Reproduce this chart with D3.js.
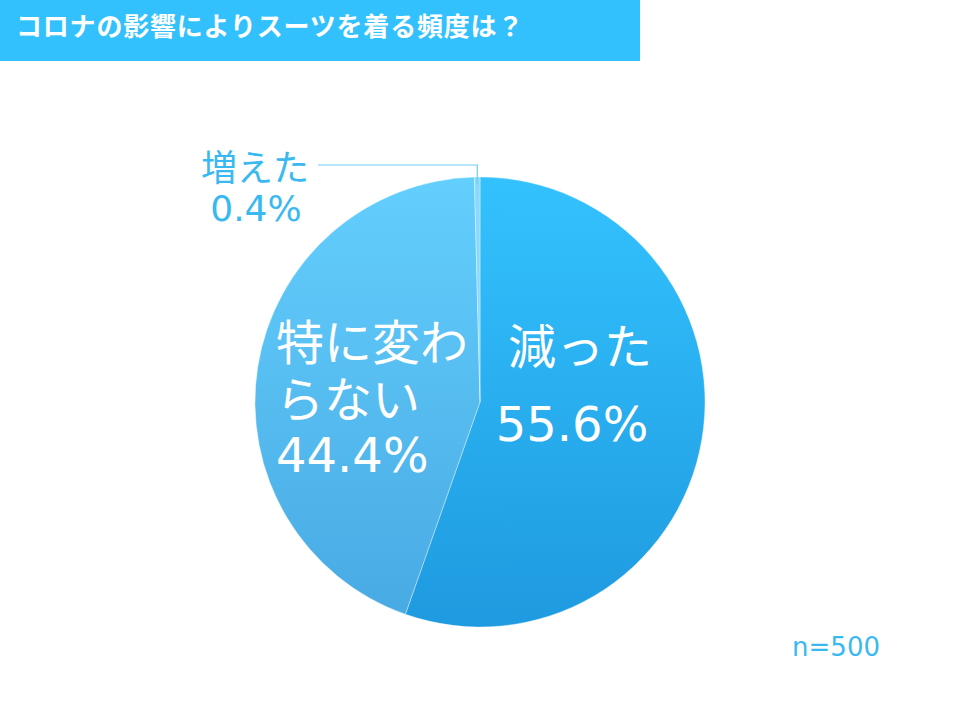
<!DOCTYPE html>
<html><head><meta charset="utf-8">
<script src="https://cdn.jsdelivr.net/npm/d3@7"></script>
<style>body{margin:0;background:#fff}svg{display:block}</style>
</head><body>
<script>
const title = "コロナの影響によりスーツを着る頻度は？";
const categories = ["減った", "特に変わらない", "増えた"];
const values = [55.6, 44.4, 0.4];
const sampleLabel = "n=500";

const W = 960, H = 720;
const svg = d3.select("body").append("svg").attr("width", W).attr("height", H);
const font = "'DejaVu Sans', 'Noto Sans CJK JP', sans-serif";

// title bar
svg.append("rect").attr("x", 0).attr("y", 0).attr("width", 640).attr("height", 61).attr("fill", "#33c1fd");
svg.append("text").attr("x", 16).attr("y", 36).attr("fill", "#fff")
  .attr("font-family", "'Noto Sans CJK JP', sans-serif").attr("font-weight", "bold").attr("font-size", 26)
  .attr("letter-spacing", 0.8)
  .text(title);

const defs = svg.append("defs");
const grads = [["#33c2fe", "#1f9ae0"], ["#63cffd", "#48a9e3"], ["#8ad9fd", "#8ad9fd"]];
const cx = 480, cy = 402, r = 225;
grads.forEach((g, i) => {
  const lg = defs.append("linearGradient").attr("id", "g" + i)
    .attr("gradientUnits", "userSpaceOnUse").attr("x1", 0).attr("y1", -r).attr("x2", 0).attr("y2", r);
  lg.append("stop").attr("offset", 0).attr("stop-color", g[0]);
  lg.append("stop").attr("offset", 1).attr("stop-color", g[1]);
});

const pie = d3.pie().sort(null).value(d => d);
const arcs = pie(values);
const arc = d3.arc().innerRadius(0).outerRadius(r);
const gp = svg.append("g").attr("transform", `translate(${cx},${cy})`);
gp.selectAll("path").data(arcs).join("path")
  .attr("d", arc).attr("fill", (d, i) => `url(#g${i})`)
  .attr("stroke", "rgba(255,255,255,0.35)").attr("stroke-width", 1);

function label(lines, xs, ys, size, anchor, color) {
  const t = svg.append("text").attr("font-family", font).attr("font-size", size)
    .attr("fill", color).attr("text-anchor", anchor);
  lines.forEach((l, i) => t.append("tspan").attr("x", xs[i]).attr("y", ys[i]).text(l));
}
label([categories[0], values[0] + "%"], [580, 572], [364, 441], 48, "middle", "#fff");
label(["特に変わ", "らない", values[1] + "%"], [276, 276, 276], [360, 417, 472], 48, "start", "#fff");
label([categories[2], values[2] + "%"], [255, 256], [181, 221], 36, "middle", "#3ab9f1");

// leader line for small slice
const a = arcs[2];
const mid = (a.startAngle + a.endAngle) / 2;
const px = cx + Math.sin(mid) * (r - 8), py = cy - Math.cos(mid) * (r - 8);
svg.append("polyline")
  .attr("points", `318,165 ${px},165 ${px},${py}`)
  .attr("fill", "none").attr("stroke", "#6dcdf8").attr("stroke-width", 1.2);

svg.append("text").attr("x", 880).attr("y", 656).attr("text-anchor", "end")
  .attr("font-family", font).attr("font-size", 26).attr("fill", "#3ab9f1").text(sampleLabel);
</script>
</body></html>
